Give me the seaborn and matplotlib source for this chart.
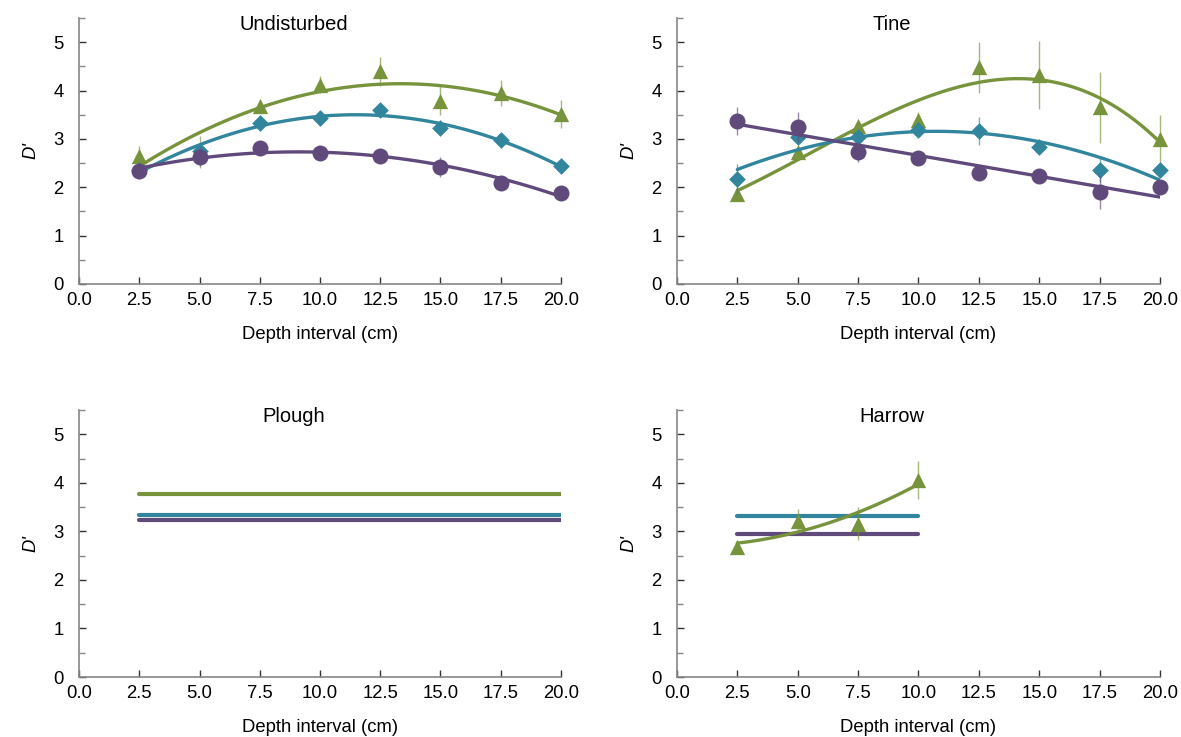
import numpy as np
import pandas as pd
import matplotlib
matplotlib.use("Agg")
import matplotlib.pyplot as plt
import seaborn as sns

# Depth intervals (cm)
depth = [2.5, 5.0, 7.5, 10.0, 12.5, 15.0, 17.5, 20.0]
depth_harrow = [2.5, 5.0, 7.5, 10.0]

# Undisturbed
und_green = [2.64, 2.73, 3.67, 4.12, 4.40, 3.79, 3.94, 3.51]
und_green_err = [0.22, 0.33, 0.12, 0.18, 0.30, 0.30, 0.27, 0.29]
und_teal = [2.36, 2.75, 3.33, 3.44, 3.59, 3.22, 2.98, 2.43]
und_teal_err = [0.08, 0.10, 0.10, 0.08, 0.08, 0.10, 0.08, 0.07]
und_purple = [2.33, 2.63, 2.82, 2.70, 2.64, 2.42, 2.09, 1.89]
und_purple_err = [0.15, 0.20, 0.10, 0.08, 0.08, 0.20, 0.10, 0.08]

# Tine
tine_green = [1.87, 2.72, 3.26, 3.40, 4.48, 4.32, 3.65, 2.99]
tine_green_err = [0.10, 0.12, 0.12, 0.15, 0.53, 0.70, 0.74, 0.50]
tine_teal = [2.17, 3.03, 3.04, 3.18, 3.17, 2.84, 2.36, 2.36]
tine_teal_err = [0.31, 0.10, 0.10, 0.10, 0.29, 0.08, 0.25, 0.10]
tine_purple = [3.37, 3.25, 2.73, 2.61, 2.30, 2.23, 1.90, 2.01]
tine_purple_err = [0.29, 0.31, 0.20, 0.10, 0.15, 0.08, 0.34, 0.10]

# Plough (mean levels only)
plough_green = 3.77
plough_teal = 3.34
plough_purple = 3.24

# Harrow
harrow_green = [2.68, 3.22, 3.16, 4.05]
harrow_green_err = [0.10, 0.24, 0.34, 0.39]
harrow_teal = 3.32
harrow_purple = 2.95

GREEN = "#77933C"
TEAL = "#31859C"
PURPLE = "#604A7B"
GREY = "#868686"

sns.set_style("white")
plt.rcParams["font.family"] = ["Liberation Sans", "DejaVu Sans"]
plt.rcParams["text.color"] = "black"
plt.rcParams["axes.labelcolor"] = "black"

fig = plt.figure(figsize=(11.81, 7.37), dpi=100)
ax_und = fig.add_axes([0.0669, 0.6147, 0.4081, 0.3609])
ax_tine = fig.add_axes([0.5732, 0.6147, 0.4090, 0.3609])
ax_plough = fig.add_axes([0.0669, 0.0814, 0.4081, 0.3623])
ax_harrow = fig.add_axes([0.5732, 0.0814, 0.4090, 0.3623])


def points(ax, x, y, err, color, marker, size, order, z):
    _, _, bars = ax.errorbar(x, y, yerr=err, fmt="none", ecolor=color,
                             elinewidth=1, alpha=0.65, zorder=z)
    for b in bars:
        b.set_clip_on(False)
    sns.scatterplot(x=x, y=y, ax=ax, color=color, marker=marker, s=size ** 2,
                    linewidth=0, zorder=z + 0.5, legend=False, clip_on=False)
    sns.regplot(x=np.array(x), y=np.array(y), ax=ax, order=order, ci=None,
                scatter=False, truncate=True, color=color,
                line_kws=dict(lw=2.4, zorder=z + 0.2))


def flat(ax, x, level, color, z):
    sns.lineplot(x=[x[0], x[-1]], y=[level, level], ax=ax, color=color,
                 lw=3, zorder=z)


def style(ax, title):
    ax.set_xlim(0, 20)
    ax.set_ylim(0, 5.5)
    ticks = np.arange(0, 20.1, 2.5)
    ax.set_xticks(ticks)
    ax.set_xticklabels([f"{t:.1f}" for t in ticks])
    ax.set_yticks(range(6))
    ax.set_yticks(np.arange(0, 5.6, 0.5), minor=True)
    ax.tick_params(axis="both", which="major", direction="in", length=5,
                   width=1, color="#333333", labelsize=13.3,
                   labelcolor="black", bottom=True, left=True)
    ax.tick_params(axis="y", which="minor", direction="in", length=4,
                   width=1, color=GREY, left=True)
    ax.tick_params(axis="x", which="minor", bottom=False)
    ax.tick_params(axis="x", pad=6)
    ax.tick_params(axis="y", pad=11)
    for s in ["top", "right"]:
        ax.spines[s].set_visible(False)
    for s in ["left", "bottom"]:
        ax.spines[s].set_color(GREY)
        ax.spines[s].set_linewidth(1.2)
    ax.set_xlabel("Depth interval (cm)", fontsize=13.3, labelpad=12)
    ax.set_ylabel("D'", fontsize=13.3, fontstyle="italic", labelpad=10)
    ax.text(0.445, 0.975, title, transform=ax.transAxes, ha="center",
            va="center", fontsize=14.5)


points(ax_und, depth, und_green, und_green_err, GREEN, "^", 11, 2, 2)
points(ax_und, depth, und_teal, und_teal_err, TEAL, "D", 8.5, 2, 3)
points(ax_und, depth, und_purple, und_purple_err, PURPLE, "o", 11.5, 2, 4)
style(ax_und, "Undisturbed")

points(ax_tine, depth, tine_green, tine_green_err, GREEN, "^", 11, 3, 2)
points(ax_tine, depth, tine_teal, tine_teal_err, TEAL, "D", 8.5, 2, 3)
points(ax_tine, depth, tine_purple, tine_purple_err, PURPLE, "o", 11.5, 1, 4)
style(ax_tine, "Tine")

flat(ax_plough, depth, plough_green, GREEN, 2)
flat(ax_plough, depth, plough_teal, TEAL, 3)
flat(ax_plough, depth, plough_purple, PURPLE, 4)
style(ax_plough, "Plough")

points(ax_harrow, depth_harrow, harrow_green, harrow_green_err, GREEN, "^",
       11, 2, 4)
flat(ax_harrow, depth_harrow, harrow_teal, TEAL, 2)
flat(ax_harrow, depth_harrow, harrow_purple, PURPLE, 3)
style(ax_harrow, "Harrow")

fig.savefig("out.png", dpi=100)
